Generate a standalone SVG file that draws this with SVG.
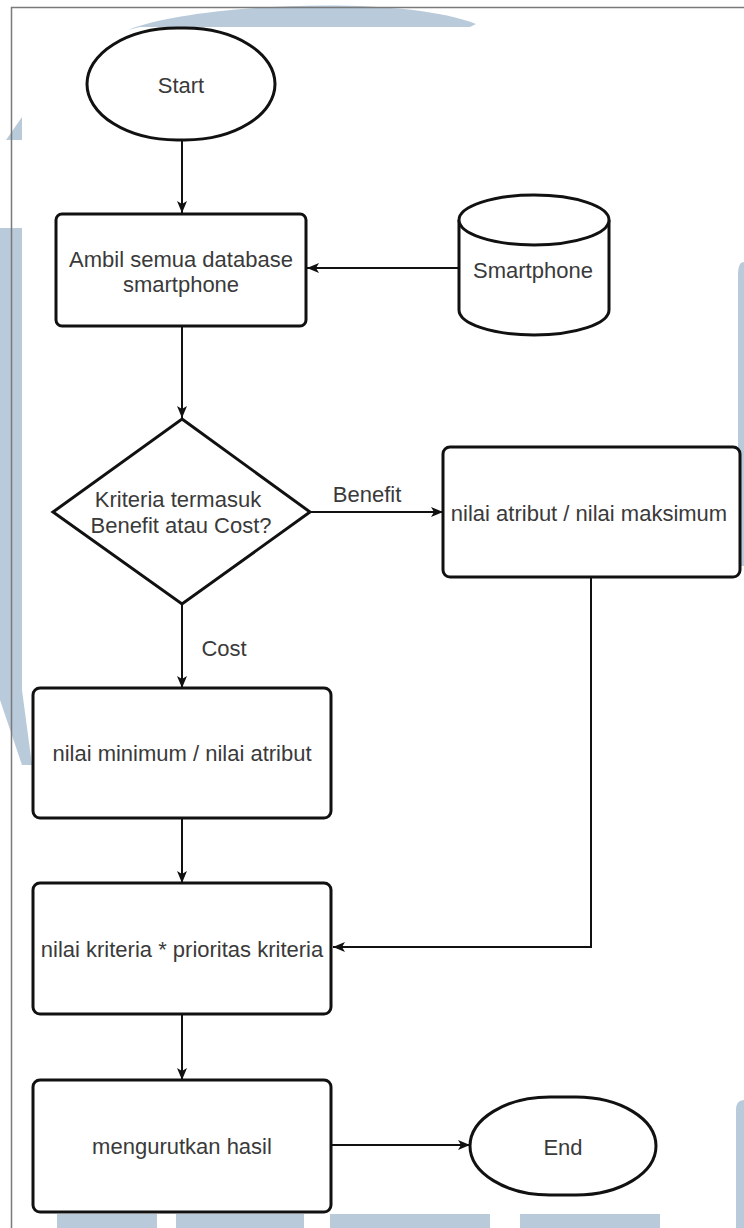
<svg xmlns="http://www.w3.org/2000/svg" width="744" height="1228" viewBox="0 0 744 1228">
  <style>
    .shape { fill: #ffffff; stroke: #111111; stroke-width: 3; }
    .edge { fill: none; stroke: #111111; stroke-width: 2; }
    .lbl { font-family: "Liberation Sans", Arial, sans-serif; font-size: 22px; fill: #3a3a3a; text-anchor: middle; }
    .mark { fill: #b9cadb; stroke: none; }
  </style>
  <defs>
    <marker id="arrow" viewBox="0 0 12 10" refX="12" refY="5" markerWidth="12" markerHeight="10" markerUnits="userSpaceOnUse" orient="auto">
      <path d="M0,0 L12,5 L0,10 L3,5 Z" fill="#111111"/>
    </marker>
  </defs>

  <rect x="0" y="0" width="744" height="1228" fill="#ffffff"/>

  <!-- background watermark pieces -->
  <g id="watermark">
    <path class="mark" d="M128,30 C190,4 400,-6 476,24 L470,27 L140,27 Z"/>
    <path class="mark" d="M6,140 L22,117 L22,140 Z"/>
    <path class="mark" d="M0,228 L22,228 L22,690 L32,765 L22,765 L0,700 Z"/>
    <path class="mark" d="M738,275 Q738,262 744,262 L744,566 L738,566 Z"/>
    <path class="mark" d="M736,1110 Q736,1100 744,1100 L744,1228 L736,1228 Z"/>
    <rect class="mark" x="57" y="1214" width="100" height="14"/>
    <rect class="mark" x="176" y="1214" width="128" height="14"/>
    <rect class="mark" x="330" y="1214" width="160" height="14"/>
    <rect class="mark" x="520" y="1214" width="140" height="14"/>
  </g>

  <!-- page frame -->
  <path d="M11.5,1228 L11.5,7.5 L744,7.5" fill="none" stroke="#7a7a7a" stroke-width="1.5"/>

  <!-- connectors -->
  <g id="connectors">
    <line class="edge" x1="182" y1="140" x2="182" y2="213" marker-end="url(#arrow)"/>
    <line class="edge" x1="459" y1="268" x2="307" y2="268" marker-end="url(#arrow)"/>
    <line class="edge" x1="182" y1="326" x2="182" y2="418" marker-end="url(#arrow)"/>
    <line class="edge" x1="310" y1="512" x2="443" y2="512" marker-end="url(#arrow)"/>
    <line class="edge" x1="182" y1="605" x2="182" y2="688" marker-end="url(#arrow)"/>
    <polyline class="edge" points="591,577 591,947 333,947" marker-end="url(#arrow)"/>
    <line class="edge" x1="182" y1="818" x2="182" y2="883" marker-end="url(#arrow)"/>
    <line class="edge" x1="182" y1="1014" x2="182" y2="1080" marker-end="url(#arrow)"/>
    <line class="edge" x1="332" y1="1145" x2="470" y2="1145" marker-end="url(#arrow)"/>
    <text class="lbl" x="367" y="502">Benefit</text>
    <text class="lbl" x="224" y="656">Cost</text>
  </g>

  <g id="start">
    <rect class="shape" x="87" y="28" width="188" height="112" rx="90" ry="56"/>
    <text class="lbl" x="181" y="93">Start</text>
  </g>

  <g id="ambil-database">
    <rect class="shape" x="56" y="214" width="250" height="112" rx="6"/>
    <text class="lbl" x="181" y="267">Ambil semua database</text>
    <text class="lbl" x="181" y="292">smartphone</text>
  </g>

  <g id="smartphone-db">
    <path class="shape" d="M459,220 A75,25 0 0 1 609,220 L609,310 A75,25 0 0 1 459,310 Z"/>
    <path class="shape" fill="none" d="M459,220 A75,25 0 0 0 609,220"/>
    <text class="lbl" x="533" y="278">Smartphone</text>
  </g>

  <g id="kriteria-decision">
    <polygon class="shape" points="182,419 310,512 182,604 53,512"/>
    <text class="lbl" x="178" y="507">Kriteria termasuk</text>
    <text class="lbl" x="181" y="533">Benefit atau Cost?</text>
  </g>

  <g id="benefit-calc">
    <rect class="shape" x="443" y="447" width="297" height="130" rx="7"/>
    <text class="lbl" x="589" y="521">nilai atribut / nilai maksimum</text>
  </g>

  <g id="cost-calc">
    <rect class="shape" x="33" y="688" width="298" height="130" rx="7"/>
    <text class="lbl" x="182" y="761">nilai minimum / nilai atribut</text>
  </g>

  <g id="weighting">
    <rect class="shape" x="33" y="883" width="298" height="131" rx="7"/>
    <text class="lbl" x="182" y="957">nilai kriteria * prioritas kriteria</text>
  </g>

  <g id="sort-results">
    <rect class="shape" x="33" y="1080" width="298" height="132" rx="7"/>
    <text class="lbl" x="182" y="1154">mengurutkan hasil</text>
  </g>

  <g id="end">
    <rect class="shape" x="470" y="1097" width="186" height="98" rx="80" ry="49"/>
    <text class="lbl" x="563" y="1155">End</text>
  </g>
</svg>
